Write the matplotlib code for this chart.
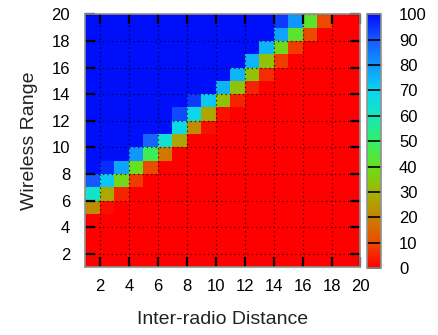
import numpy as np
import matplotlib
matplotlib.use("Agg")
import matplotlib.pyplot as plt
from matplotlib.colors import LinearSegmentedColormap

plt.rcParams['font.family'] = ['Liberation Sans', 'DejaVu Sans']

# cell edges (inter-radio distance on x, wireless range on y)
distance_edges = list(range(1, 21))
range_edges = list(range(1, 21))

# success values per cell, top row = range 19..20, bottom row = range 1..2
success = [
    [100, 100, 100, 100, 100, 100, 100, 100, 100, 100, 100, 100, 100, 94, 80, 42, 10, 0, 0],
    [100, 100, 100, 100, 100, 100, 100, 100, 100, 100, 100, 100, 100, 78, 42, 10, 0, 0, 0],
    [100, 100, 100, 100, 100, 100, 100, 100, 100, 100, 100, 100, 75, 38, 8, 0, 0, 0, 0],
    [100, 100, 100, 100, 100, 100, 100, 100, 100, 100, 100, 75, 33, 8, 0, 0, 0, 0, 0],
    [100, 100, 100, 100, 100, 100, 100, 100, 100, 100, 75, 33, 6, 0, 0, 0, 0, 0, 0],
    [100, 100, 100, 100, 100, 100, 100, 100, 100, 75, 33, 5, 0, 0, 0, 0, 0, 0, 0],
    [100, 100, 100, 100, 100, 100, 100, 94, 72, 33, 5, 0, 0, 0, 0, 0, 0, 0, 0],
    [100, 100, 100, 100, 100, 100, 92, 68, 27, 2, 0, 0, 0, 0, 0, 0, 0, 0, 0],
    [100, 100, 100, 100, 100, 100, 68, 22, 2, 0, 0, 0, 0, 0, 0, 0, 0, 0, 0],
    [100, 100, 100, 100, 88, 63, 27, 0, 0, 0, 0, 0, 0, 0, 0, 0, 0, 0, 0],
    [100, 100, 100, 80, 48, 18, 0, 0, 0, 0, 0, 0, 0, 0, 0, 0, 0, 0, 0],
    [100, 96, 78, 40, 10, 0, 0, 0, 0, 0, 0, 0, 0, 0, 0, 0, 0, 0, 0],
    [90, 72, 38, 8, 0, 0, 0, 0, 0, 0, 0, 0, 0, 0, 0, 0, 0, 0, 0],
    [62, 28, 5, 0, 0, 0, 0, 0, 0, 0, 0, 0, 0, 0, 0, 0, 0, 0, 0],
    [22, 2, 0, 0, 0, 0, 0, 0, 0, 0, 0, 0, 0, 0, 0, 0, 0, 0, 0],
    [0, 0, 0, 0, 0, 0, 0, 0, 0, 0, 0, 0, 0, 0, 0, 0, 0, 0, 0],
    [0, 0, 0, 0, 0, 0, 0, 0, 0, 0, 0, 0, 0, 0, 0, 0, 0, 0, 0],
    [0, 0, 0, 0, 0, 0, 0, 0, 0, 0, 0, 0, 0, 0, 0, 0, 0, 0, 0],
    [0, 0, 0, 0, 0, 0, 0, 0, 0, 0, 0, 0, 0, 0, 0, 0, 0, 0, 0],
]

xticks = list(range(2, 21, 2))
yticks = list(range(2, 21, 2))
cbar_ticks = list(range(0, 101, 10))

# gnuplot-like red -> blue palette
palette = [
    (0.0, (1.00, 0.00, 0.00)),
    (0.1, (0.92, 0.30, 0.00)),
    (0.2, (0.78, 0.51, 0.00)),
    (0.3, (0.63, 0.71, 0.00)),
    (0.4, (0.40, 0.88, 0.12)),
    (0.5, (0.20, 0.94, 0.40)),
    (0.6, (0.08, 0.90, 0.75)),
    (0.7, (0.04, 0.84, 0.94)),
    (0.8, (0.06, 0.59, 1.00)),
    (0.9, (0.08, 0.35, 1.00)),
    (1.0, (0.00, 0.06, 0.98)),
]
cmap = LinearSegmentedColormap.from_list("rb", palette)

fig = plt.figure(figsize=(4.38, 3.35), dpi=100)
ax = fig.add_axes([0.195, 0.203, 0.628, 0.754])
cax = fig.add_axes([0.838, 0.20, 0.032, 0.757])

z = np.array(success[::-1])
mesh = ax.pcolormesh(distance_edges, range_edges, z, cmap=cmap, vmin=0, vmax=100)

ax.set_xlim(1, 20)
ax.set_ylim(1, 20)
ax.set_xticks(xticks)
ax.set_yticks(yticks)
ax.grid(True, color='black', linestyle=(0, (1, 2.5)), linewidth=0.9, alpha=0.8)
ax.tick_params(direction='in', length=7, width=1.6, top=True, right=True,
               labelsize=12, colors='black')
ax.tick_params(axis='x', pad=9)
ax.tick_params(axis='y', pad=11)
for s in ax.spines.values():
    s.set_color('#909090')
    s.set_linewidth(1.2)

ax.set_xlabel("Inter-radio Distance", fontsize=14, labelpad=12, color='#222222')
ax.set_ylabel("Wireless Range", fontsize=14, labelpad=10, color='#222222')

cb = fig.colorbar(mesh, cax=cax, ticks=cbar_ticks)
cb.outline.set_edgecolor('#909090')
cb.outline.set_linewidth(1.2)
cax.tick_params(direction='in', length=10, width=1.2, labelsize=12, pad=13)

fig.savefig("out.png", dpi=100)
